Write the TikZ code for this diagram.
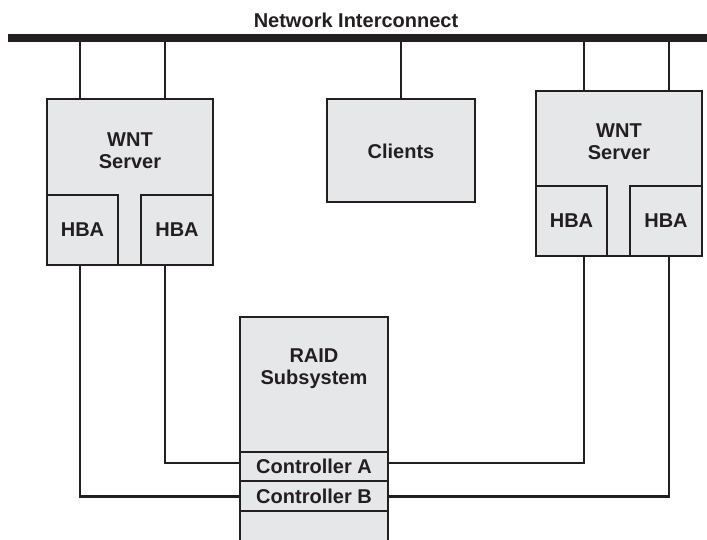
\documentclass[tikz,border=0pt]{standalone}
\usepackage{fontspec}
\setmainfont{Liberation Sans}
\usetikzlibrary{calc}
\definecolor{ink}{HTML}{231F20}
\definecolor{boxfill}{HTML}{E6E7E9}
\begin{document}
\begin{tikzpicture}[x=1pt,y=-1pt,
  lbl/.style={font=\fontsize{20}{22.3}\selectfont\bfseries, text=ink, align=center, inner sep=0},
  wire/.style={draw=ink, line width=2.2pt},
  boxshape/.style={draw=ink, fill=boxfill, line width=2.6pt}]
\useasboundingbox (0,0) rectangle (707,540);
\begin{scope}
\clip (0,0) rectangle (707,540);
% bus
\coordinate (busL) at (8,38);
\coordinate (busR) at (707,38);
\coordinate (b1) at (80,38);
\coordinate (b2) at (165,38);
\coordinate (b3) at (401,38);
\coordinate (b4) at (584,38);
\coordinate (b5) at (669,38);
\draw[draw=ink, line width=8pt] (busL) -- (busR);
\node[lbl] (nettitle) at (356,20) {Network Interconnect};

% left server
\draw[boxshape] (47,99) rectangle (213,265);
\coordinate (lsrvN) at (130,99);
\node[lbl] (lsrv) at (130,151) {WNT\\Server};
\draw[boxshape] (47,195) rectangle (118,265);
\node[lbl] (lhbaA) at (82.5,230) {HBA};
\draw[boxshape] (141,195) rectangle (213,265);
\node[lbl] (lhbaB) at (177,230) {HBA};
\coordinate (lsrvS) at (130,265);

% clients
\draw[boxshape] (327,99) rectangle (475,202);
\node[lbl] (clients) at (401,151) {Clients};
\coordinate (clientsN) at (401,99);

% right server
\draw[boxshape] (536,91) rectangle (702,256);
\coordinate (rsrvN) at (619,91);
\node[lbl] (rsrv) at (619,142) {WNT\\Server};
\draw[boxshape] (536,186) rectangle (607,256);
\node[lbl] (rhbaA) at (571.5,221) {HBA};
\draw[boxshape] (630,186) rectangle (702,256);
\node[lbl] (rhbaB) at (666,221) {HBA};
\coordinate (rsrvS) at (619,256);

% RAID
\draw[boxshape] (240,560) -- (240,317) -- (388,317) -- (388,560);
\node[lbl] (raid) at (314,369) {RAID\\Subsystem};
\draw[boxshape] (240,452) rectangle (388,481);
\node[lbl] (ctrlA) at (314,466.5) {Controller A};
\draw[boxshape] (240,481) rectangle (388,511);
\node[lbl] (ctrlB) at (314,496) {Controller B};
\coordinate (ctrlAW) at (240,463);
\coordinate (ctrlAE) at (388,463);
\coordinate (ctrlBW) at (240,496.5);
\coordinate (ctrlBE) at (388,496.5);

% bus drops
\draw[wire] (b1) -- (b1 |- lsrvN);
\draw[wire] (b2) -- (b2 |- lsrvN);
\draw[wire] (b3) -- (clientsN);
\draw[wire] (b4) -- (b4 |- rsrvN);
\draw[wire] (b5) -- (b5 |- rsrvN);

% SAN wiring
\draw[wire] (b1 |- lsrvS) |- (ctrlBW);
\draw[wire] (b2 |- lsrvS) |- (ctrlAW);
\draw[wire] (b4 |- rsrvS) |- (ctrlAE);
\draw[wire] (b5 |- rsrvS) |- (ctrlBE);
\end{scope}
\end{tikzpicture}
\end{document}
